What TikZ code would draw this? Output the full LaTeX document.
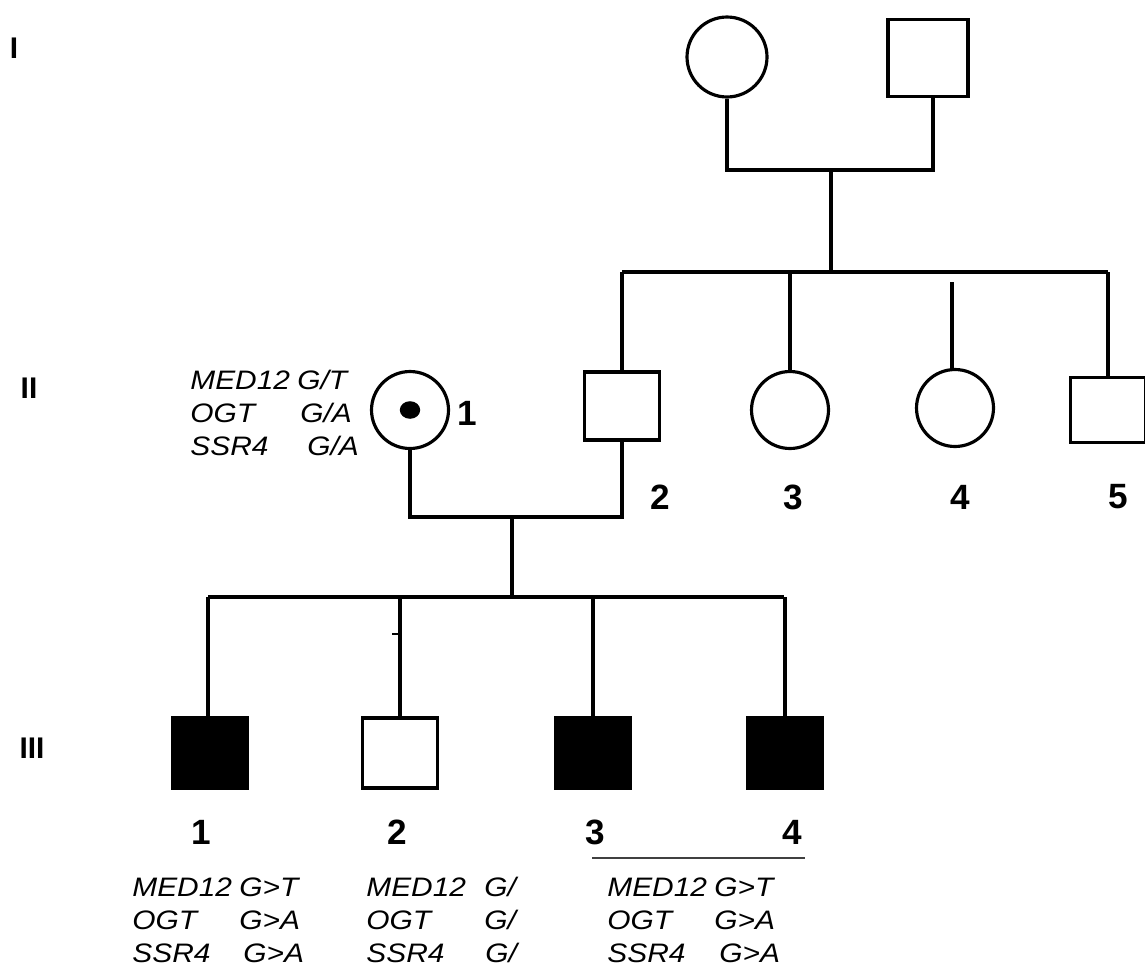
\documentclass[tikz,border=0pt]{standalone}
\usepackage{fontspec}
\setmainfont{Liberation Sans}
\newfontfamily\gtfont[FakeStretch=1.12]{Liberation Sans}
\begin{document}
\begin{tikzpicture}[x=0.02cm,y=-0.02cm,
  fem/.style={circle,draw,line width=1.8pt,minimum size=1.54cm,inner sep=0pt},
  mal/.style={rectangle,draw,line width=1.8pt,minimum width=1.5cm,minimum height=1.36cm,inner sep=0pt},
  aff/.style={mal,fill=black,minimum height=1.4cm},
  ln/.style={line width=2.4pt},
  gen/.style={font=\bfseries\fontsize{17}{17}\selectfont,inner sep=0pt},
  num/.style={font=\bfseries\fontsize{20}{20}\selectfont,inner sep=0pt},
  gt/.style={font=\gtfont\itshape\fontsize{15.2}{18.8}\selectfont,inner sep=0pt,anchor=north west,align=left}]
\useasboundingbox (0,0) rectangle (1145,967);
% generation labels
\node[gen] (gI) at (14,48) {I};
\node[gen] (gII) at (29,388) {II};
\node[gen] (gIII) at (32,748) {III};
% generation I
\node[fem,minimum size=1.6cm] (I1) at (727,57) {};
\node[mal,minimum width=1.6cm,minimum height=1.54cm] (I2) at (928,58) {};
\coordinate (m1) at (727,170);
\coordinate (m2) at (933,170);
\coordinate (mc) at (831,170);
\coordinate (s1) at (831,272);
\draw[ln] (I1.south) -- (m1) -- (m2) -- (I2.south -| m2);
\draw[ln] (mc) -- (s1);
% generation II
\node[fem] (II1) at (410,410) {};
\fill (II1.center) ellipse (5.8pt and 5pt);
\node[num] (n21) at (467,413) {1};
\node[mal] (II2) at (622,406) {};
\node[fem] (II3) at (790,410) {};
\node[fem] (II4) at (955,408) {};
\node[mal,minimum height=1.3cm] (II5) at (1108,410) {};
\coordinate (sa) at (622,272);
\coordinate (sb) at (1108,272);
\coordinate (s4) at (952,282);
\draw[ln] (sa) -- (sb);
\draw[ln] (sa) -- (II2.north);
\draw[ln] (II3.north |- sa) -- (II3.north);
\draw[ln] (s4) -- (s4 |- II4.north);
\draw[ln] (sb) -- (II5.north);
\node[num] (n22) at (660,497) {2};
\node[num] (n23) at (793,497) {3};
\node[num] (n24) at (960,497) {4};
\node[num] (n25) at (1118,497) {5};
\node[gt] (t21) at (190,370) {MED12\\OGT\\SSR4};
\node[gt] (a21) at (297,370) {G/T\\\hspace{1.7pt}G/A\\\hspace{5.7pt}G/A};
% marriage II
\coordinate (p1) at (410,517);
\coordinate (p2) at (622,517);
\coordinate (pc) at (512,517);
\coordinate (q) at (512,597);
\draw[ln] (II1.south) -- (p1) -- (p2) -- (II2.south);
\draw[ln] (pc) -- (q);
% generation III
\node[aff] (III1) at (210,753) {};
\node[mal,minimum height=1.4cm] (III2) at (400,753) {};
\node[aff] (III3) at (593,753) {};
\node[aff] (III4) at (785,753) {};
\coordinate (qa) at (208,597);
\coordinate (qb) at (784,597);
\draw[ln] (qa) -- (qb);
\draw[ln] (qa) -- (qa |- III1.north);
\draw[ln] (III2.north |- qa) -- (III2.north);
\draw[line width=1.5pt] (392,634) -- (400,634);
\draw[ln] (III3.north |- qa) -- (III3.north);
\draw[ln] (III4.north |- qa) -- (III4.north);
\node[num] (n31) at (201,832) {1};
\node[num] (n32) at (397,832) {2};
\node[num] (n33) at (595,832) {3};
\node[num] (n34) at (792,832) {4};
\coordinate (u1) at (592,858);
\coordinate (u2) at (805,858);
\draw[line width=1.2pt,black!75] (u1) -- (u2);
\node[gt] (t31) at (132,877) {MED12\\OGT\\SSR4};
\node[gt] (a31) at (239,877) {G>T\\G>A\\\hspace{2.3pt}G>A};
\node[gt] (t32) at (366,877) {MED12\\OGT\\SSR4};
\node[gt] (a32) at (484,877) {G/\\G/\\\hspace{0.6pt}G/};
\node[gt] (t33) at (607,877) {MED12\\OGT\\SSR4};
\node[gt] (a33) at (714,877) {G>T\\G>A\\\hspace{2.8pt}G>A};
\end{tikzpicture}
\end{document}
